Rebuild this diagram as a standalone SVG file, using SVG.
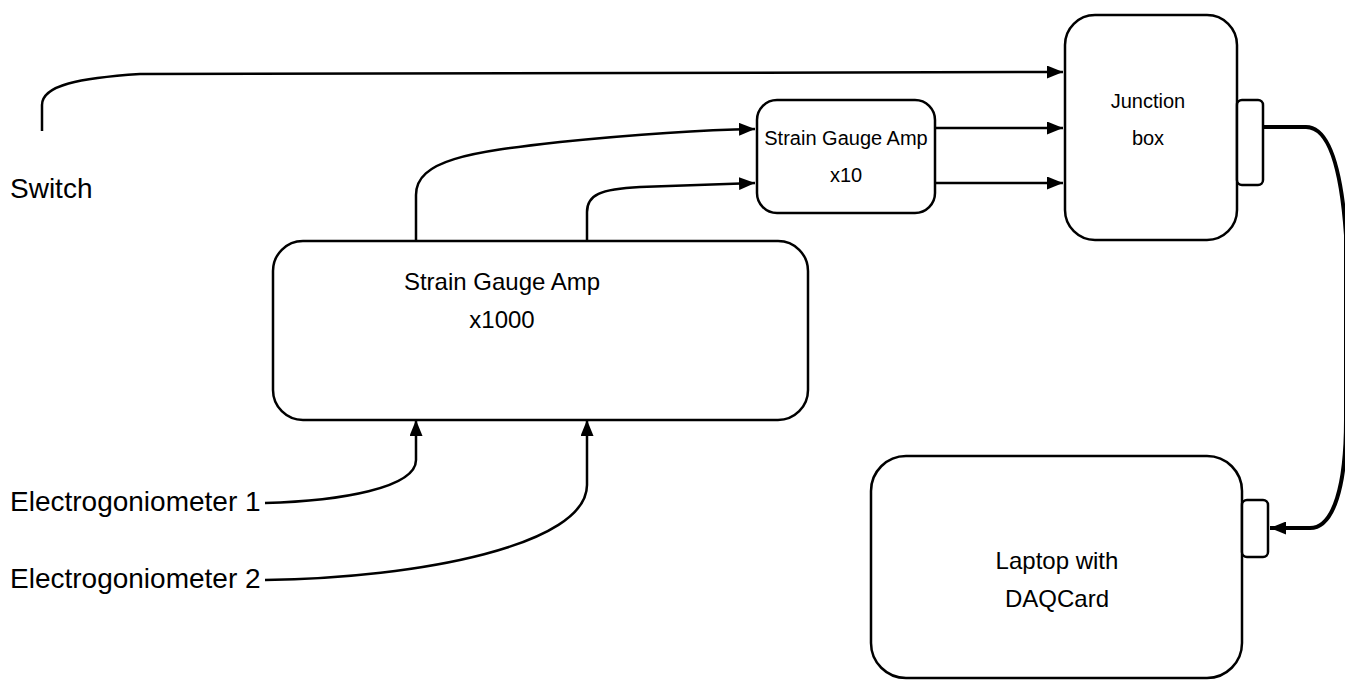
<svg xmlns="http://www.w3.org/2000/svg" width="1345" height="680" viewBox="0 0 1345 680">
<style>
.box{fill:#fff;stroke:#000;stroke-width:2.5}
.ln{fill:none;stroke:#000;stroke-width:2.5}
.cable{fill:none;stroke:#000;stroke-width:4}
.lbl{font-family:"Liberation Sans",Arial,sans-serif;font-size:28px;fill:#000}
.txt{font-family:"Liberation Sans",Arial,sans-serif;font-size:20px;fill:#000;text-anchor:middle}
.big{font-size:24px}
</style>
<defs>
<marker id="ah" viewBox="0 0 16 13" refX="16" refY="6.5" markerWidth="16" markerHeight="13" markerUnits="userSpaceOnUse" orient="auto">
<path d="M0,0 L16,6.5 L0,13 Z" fill="#000"/>
</marker>
</defs>
<g id="connectors">
<path class="ln" d="M42,131 V105 C42,85 80,78 140,74 L1063,72" marker-end="url(#ah)"/>
<path class="ln" d="M416,240 V195 C416,160 470,152 560,142 C640,134 700,130 755,129" marker-end="url(#ah)"/>
<path class="ln" d="M587,240 V212 C587,195 600,189 640,187 L755,183" marker-end="url(#ah)"/>
<path class="ln" d="M935,128 H1063" marker-end="url(#ah)"/>
<path class="ln" d="M935,183 H1063" marker-end="url(#ah)"/>
<path class="ln" d="M265,503 C340,501 416,488 416,460 V420" marker-end="url(#ah)"/>
<path class="ln" d="M265,580 C420,578 587,545 587,485 V420" marker-end="url(#ah)"/>
<path class="cable" d="M1263,127 H1306 C1328,127 1341,165 1346,235 V420 C1346,485 1334,528 1310,528 H1270" marker-end="url(#ah)"/>
</g>
<g id="switch"><text class="lbl" x="10" y="198">Switch</text></g>
<g id="eg1"><text class="lbl" x="10" y="511">Electrogoniometer 1</text></g>
<g id="eg2"><text class="lbl" x="10" y="588">Electrogoniometer 2</text></g>
<g id="amp1000">
<rect class="box" x="273" y="241" width="535" height="179" rx="30"/>
<text class="txt big" x="502" y="290">Strain Gauge Amp</text>
<text class="txt big" x="502" y="328">x1000</text>
</g>
<g id="amp10">
<rect class="box" x="757" y="100" width="178" height="113" rx="20"/>
<text class="txt" x="846" y="145">Strain Gauge Amp</text>
<text class="txt" x="846" y="182">x10</text>
</g>
<g id="junction">
<rect class="box" x="1065" y="15" width="172" height="225" rx="30"/>
<rect class="box" x="1237" y="100" width="26" height="85" rx="5"/>
<text class="txt" x="1148" y="108">Junction</text>
<text class="txt" x="1148" y="145">box</text>
</g>
<g id="laptop">
<rect class="box" x="871" y="456" width="371" height="222" rx="35"/>
<rect class="box" x="1242" y="500" width="26" height="57" rx="5"/>
<text class="txt big" x="1057" y="569">Laptop with</text>
<text class="txt big" x="1057" y="607">DAQCard</text>
</g>
</svg>
